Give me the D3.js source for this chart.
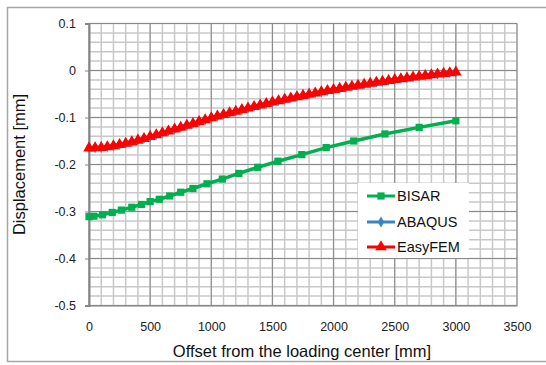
<!DOCTYPE html>
<html lang="en">
<head>
  <meta charset="UTF-8">
  <script src="https://d3js.org/d3.v7.min.js"></script>
  <style>
    body { margin: 0; background: #ffffff; font-family: "Liberation Sans", Arial, sans-serif; }
    .tick text { fill: #222; }
  </style>
</head>
<body>
  <div id="chart"></div>
  <script>
    // BISAR (analytical), sparse offsets
    const bisarX = [0, 40, 110, 190, 265, 350, 430, 500, 575, 660, 750, 850, 965, 1090, 1225, 1380, 1545, 1740, 1940, 2165, 2420, 2700, 3000];
    const bisarY = [-0.311, -0.310, -0.307, -0.302, -0.297, -0.291, -0.285, -0.279, -0.274, -0.267, -0.259, -0.251, -0.241, -0.231, -0.219, -0.206, -0.193, -0.179, -0.164, -0.150, -0.135, -0.121, -0.107];

    // FEM results, dense offsets
    const femX = [0, 50, 100, 150, 200, 250, 300, 350, 400, 450, 500, 550, 600, 650, 700, 750, 800, 850, 900, 950,
      1000, 1050, 1100, 1150, 1200, 1250, 1300, 1350, 1400, 1450, 1500, 1550, 1600, 1650, 1700, 1750, 1800, 1850, 1900, 1950,
      2000, 2050, 2100, 2150, 2200, 2250, 2300, 2350, 2400, 2450, 2500, 2550, 2600, 2650, 2700, 2750, 2800, 2850, 2900, 2950, 3000];
    const abaqusY = [-0.1642, -0.1640, -0.1632, -0.1617, -0.1597, -0.1572, -0.1542, -0.1512, -0.1477, -0.1442, -0.1402, -0.1362, -0.1322, -0.1282, -0.1242, -0.1202, -0.1162, -0.1122, -0.1082, -0.1042,
      -0.1002, -0.0966, -0.0930, -0.0895, -0.0861, -0.0827, -0.0794, -0.0761, -0.0729, -0.0698, -0.0667, -0.0637, -0.0608, -0.0580, -0.0552, -0.0525, -0.0499, -0.0473, -0.0448, -0.0423,
      -0.0399, -0.0376, -0.0353, -0.0331, -0.0309, -0.0288, -0.0267, -0.0247, -0.0227, -0.0208, -0.0189, -0.0171, -0.0153, -0.0136, -0.0119, -0.0103, -0.0087, -0.0072, -0.0057, -0.0042, -0.0028];
    const easyfemY = [-0.1650, -0.1648, -0.1640, -0.1625, -0.1605, -0.1580, -0.1550, -0.1520, -0.1485, -0.1450, -0.1410, -0.1370, -0.1330, -0.1290, -0.1250, -0.1210, -0.1170, -0.1130, -0.1090, -0.1050,
      -0.1010, -0.0974, -0.0938, -0.0903, -0.0869, -0.0835, -0.0802, -0.0769, -0.0737, -0.0706, -0.0675, -0.0645, -0.0616, -0.0588, -0.0560, -0.0533, -0.0507, -0.0481, -0.0456, -0.0431,
      -0.0407, -0.0384, -0.0361, -0.0339, -0.0317, -0.0296, -0.0275, -0.0255, -0.0235, -0.0216, -0.0197, -0.0179, -0.0161, -0.0144, -0.0127, -0.0111, -0.0095, -0.0080, -0.0065, -0.0050, -0.0036];

    const xTicks = [0, 500, 1000, 1500, 2000, 2500, 3000, 3500];
    const yTicks = [0.1, 0, -0.1, -0.2, -0.3, -0.4, -0.5];

    const width = 546, height = 365;

    const svg = d3.select("#chart").append("svg")
      .attr("width", width)
      .attr("height", height)
      .style("display", "block");

    svg.append("rect").attr("width", width).attr("height", height).attr("fill", "#fff");
    // chart frame
    svg.append("rect")
      .attr("x", 7.5).attr("y", 7.5)
      .attr("width", width + 10).attr("height", 354)
      .attr("fill", "none").attr("stroke", "#a6a6a6").attr("stroke-width", 1.5);

    const x = d3.scaleLinear().domain([0, 3500]).range([89, 517]);
    const y = d3.scaleLinear().domain([-0.5, 0.1]).range([305.5, 23.5]);

    // grid: minor then major
    const grid = svg.append("g");
    grid.selectAll(".vmin").data(d3.range(0, 3501, 100)).enter().append("line")
      .attr("x1", d => x(d)).attr("x2", d => x(d))
      .attr("y1", y(0.1)).attr("y2", y(-0.5))
      .attr("stroke", "#c8c8c8").attr("stroke-width", 1.5);
    grid.selectAll(".hmin").data(d3.range(-25, 6).map(k => k * 0.02)).enter().append("line")
      .attr("x1", x(0)).attr("x2", x(3500))
      .attr("y1", d => y(d)).attr("y2", d => y(d))
      .attr("stroke", "#c8c8c8").attr("stroke-width", 1.5);
    grid.selectAll(".vmaj").data(xTicks).enter().append("line")
      .attr("x1", d => x(d)).attr("x2", d => x(d))
      .attr("y1", y(0.1)).attr("y2", y(-0.5))
      .attr("stroke", "#8a8a8a").attr("stroke-width", 1);
    grid.selectAll(".hmaj").data(yTicks).enter().append("line")
      .attr("x1", x(0)).attr("x2", x(3500))
      .attr("y1", d => y(d)).attr("y2", d => y(d))
      .attr("stroke", "#8a8a8a").attr("stroke-width", 1);

    // axes
    const yAxis = svg.append("g")
      .attr("transform", `translate(${x(0)},0)`)
      .call(d3.axisLeft(y).tickValues(yTicks).tickSize(4).tickPadding(9)
        .tickFormat(d => d === 0 ? "0" : d3.format(".1f")(d).replace("−", "-")));
    yAxis.select(".domain").attr("stroke", "#868686").attr("stroke-width", 2);
    yAxis.selectAll(".tick line").attr("stroke", "#868686");
    yAxis.selectAll("text").style("font-size", "12.5px");

    const xAxis = svg.append("g")
      .attr("transform", `translate(0,${y(-0.5)})`)
      .call(d3.axisBottom(x).tickValues(xTicks).tickSize(0).tickPadding(17).tickFormat(d3.format("d")));
    xAxis.select(".domain").attr("stroke", "#868686").attr("stroke-width", 1);
    xAxis.selectAll("text").style("font-size", "12.5px");

    svg.append("text")
      .attr("x", 302).attr("y", 357)
      .attr("text-anchor", "middle")
      .style("font-size", "16.5px").attr("fill", "#111")
      .text("Offset from the loading center [mm]");
    svg.append("text")
      .attr("transform", `translate(25,${(y(0.1) + y(-0.5)) / 2}) rotate(-90)`)
      .attr("text-anchor", "middle")
      .style("font-size", "16.5px").attr("fill", "#111")
      .text("Displacement [mm]");

    const line = d3.line().x(d => x(d[0])).y(d => y(d[1]));

    const series = [
      { name: "BISAR", xs: bisarX, ys: bisarY, color: "#00b050", sym: d3.symbolSquare, size: 52 },
      { name: "ABAQUS", xs: femX, ys: abaqusY, color: "#3b84c4", sym: d3.symbolDiamond, size: 36 },
      { name: "EasyFEM", xs: femX, ys: easyfemY, color: "#ff0000", sym: d3.symbolTriangle, size: 58 }
    ];

    series.forEach(s => {
      const pts = s.xs.map((v, i) => [v, s.ys[i]]);
      svg.append("path").datum(pts)
        .attr("d", line).attr("fill", "none")
        .attr("stroke", s.color).attr("stroke-width", 3.5);
      svg.append("g").selectAll("path").data(pts).enter().append("path")
        .attr("d", d3.symbol().type(s.sym).size(s.size))
        .attr("transform", d => `translate(${x(d[0])},${y(d[1])})`)
        .attr("fill", s.color);
    });

    // legend
    const legend = svg.append("g");
    legend.append("rect").attr("x", 358).attr("y", 183).attr("width", 111).attr("height", 75).attr("fill", "#fff");
    const rowY = [196, 222, 247];
    series.forEach((s, i) => {
      const g = legend.append("g").attr("transform", `translate(0,${rowY[i]})`);
      g.append("line").attr("x1", 367).attr("x2", 395).attr("y1", 0).attr("y2", 0)
        .attr("stroke", s.color).attr("stroke-width", 3);
      g.append("path").attr("d", d3.symbol().type(s.sym).size(s.size))
        .attr("transform", "translate(381,0)").attr("fill", s.color);
      g.append("text").attr("x", 397).attr("y", 5)
        .style("font-size", "14.5px").attr("fill", "#111").text(s.name);
    });
  </script>
</body>
</html>
